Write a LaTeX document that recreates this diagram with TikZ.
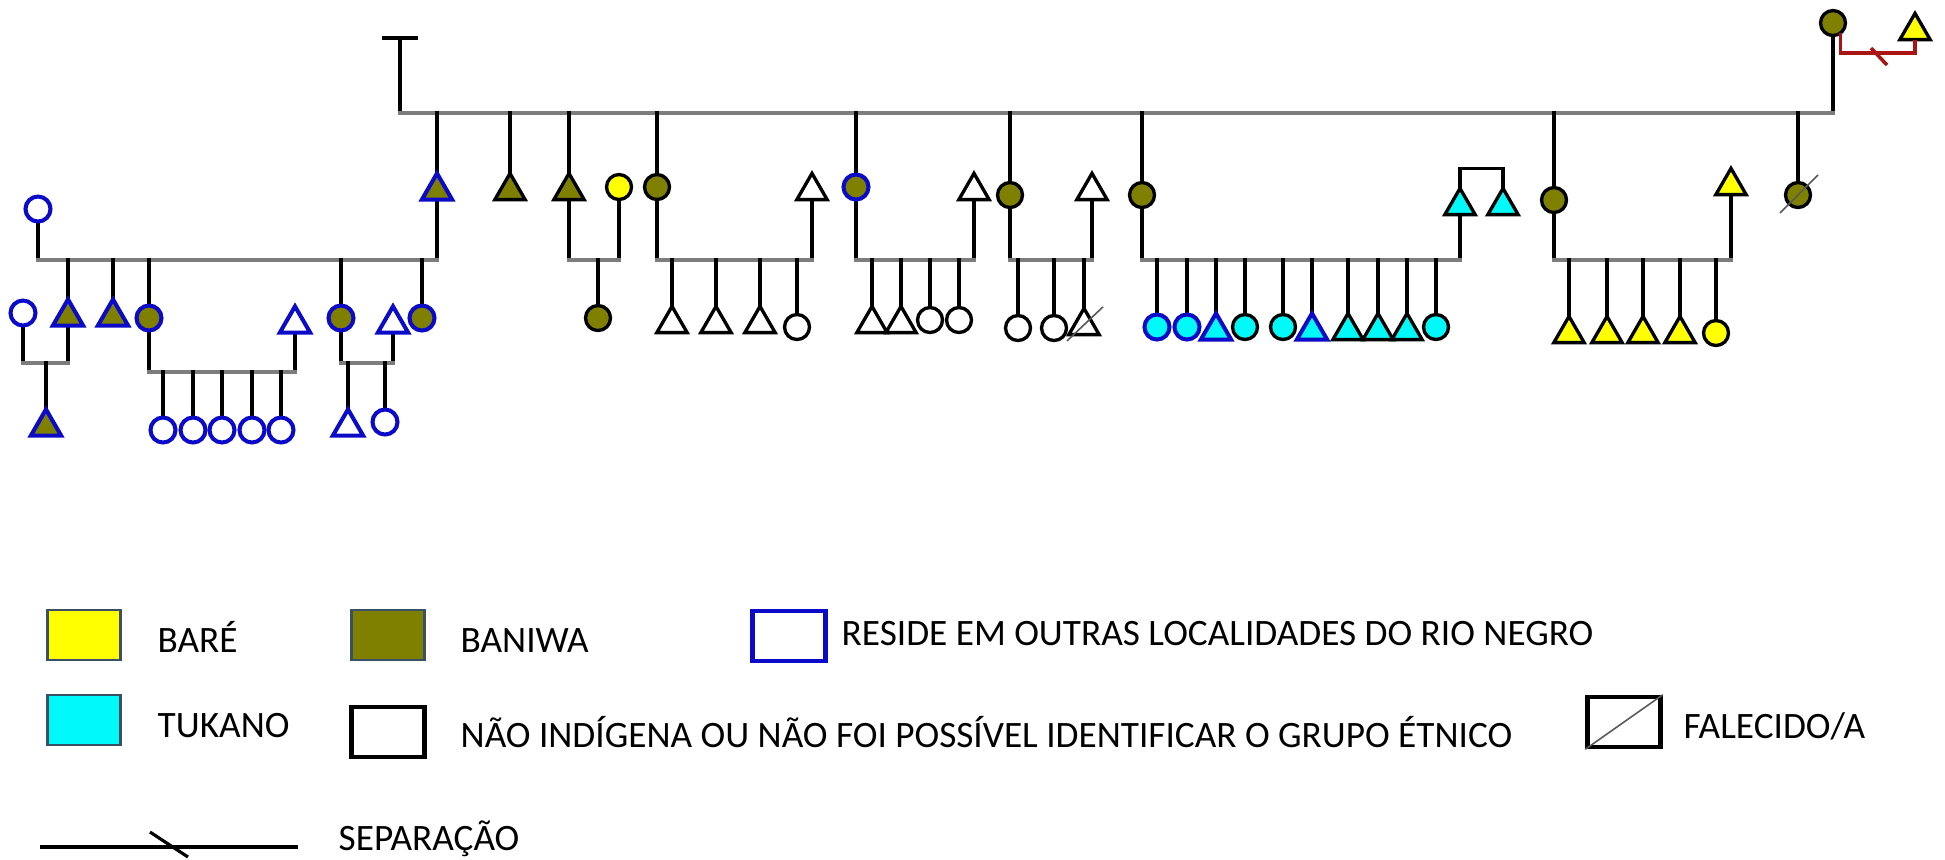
\documentclass[tikz,border=0pt]{standalone}
\usepackage{fontspec}
\setmainfont{Carlito}
\usetikzlibrary{shapes.geometric,backgrounds}
\definecolor{corBare}{RGB}{255,255,0}
\definecolor{corBaniwa}{RGB}{128,128,0}
\definecolor{corTukano}{RGB}{0,250,250}
\definecolor{azul}{RGB}{10,10,200}
\definecolor{linha}{RGB}{125,125,125}
\definecolor{vermelho}{RGB}{170,20,20}
\definecolor{contorno}{RGB}{60,80,100}
\tikzset{
  pessoa/.style={draw=black, line width=0.95pt, fill=white, inner sep=0pt, outer sep=0pt},
  mulher/.style={pessoa, circle, minimum size=0.25cm},
  homem/.style={pessoa, regular polygon, regular polygon sides=3, minimum size=0.35cm, yshift=-1.1pt},
  yel/.style={fill=corBare},
  oli/.style={fill=corBaniwa},
  cya/.style={fill=corTukano},
  blu/.style={draw=azul, line width=1.15pt},
  desc/.style={line width=1.05pt, black, line cap=rect},
  elo/.style={line width=1.2pt, linha, line cap=rect},
  obito/.style={line width=0.45pt, black!65},
  sep/.style={line width=1pt, vermelho},
  caixa/.style={draw=contorno, line width=0.6pt, minimum width=0.73cm, minimum height=0.5cm, inner sep=0pt},
  rotulo/.style={anchor=base west, inner sep=0pt, font=\fontsize{10.6}{12}\selectfont}
}
\begin{document}
\begin{tikzpicture}[x=0.01cm, y=-0.01cm]
\useasboundingbox (0,0) rectangle (1945,859);
\coordinate (l0) at (400,113);
\coordinate (tt) at (400,38);
\coordinate (nv2) at (0,260);
\coordinate (nv3a) at (0,363);
\coordinate (nv3b) at (0,372);

% casal do topo
\node[mulher, oli] (avo) at (1833,23) {};
\node[homem, yel] (avo2) at (1915,27) {};

% filhos
\node[homem, oli, blu] (g1) at (437,187) {};
\node[homem, oli] (g2) at (510,187) {};
\node[homem, oli] (g3) at (569,187) {};
\node[mulher, yel] (s3) at (619,187) {};
\node[mulher, oli] (g4) at (657,187) {};
\node[homem] (s4) at (812,187) {};
\node[mulher, oli, blu] (g5) at (856,187) {};
\node[homem] (s5) at (974,187) {};
\node[mulher, oli] (g6) at (1010,195) {};
\node[homem] (s6) at (1092,187) {};
\node[mulher, oli] (g7) at (1142,195) {};
\node[homem, cya] (s7) at (1460,202) {};
\node[homem, cya] (s7b) at (1503,202) {};
\node[mulher, oli] (g8) at (1554,200) {};
\node[homem, yel] (s8) at (1731,182) {};
\node[mulher, oli] (g9) at (1798,195) {};
\node[mulher, blu] (s1) at (38,209) {};

% netos de g1
\node[homem, oli, blu] (c11) at (68,313) {};
\node[mulher, blu] (e11) at (23,313) {};
\node[homem, oli, blu] (c12) at (113,313) {};
\node[mulher, oli, blu] (c13) at (149,318) {};
\node[homem, blu] (e13) at (295,320) {};
\node[mulher, oli, blu] (c14) at (341,318) {};
\node[homem, blu] (e14) at (393,320) {};
\node[mulher, oli, blu] (c15) at (422,318) {};
\node[homem, oli, blu] (n11) at (46,423) {};
\foreach \x [count=\i] in {163,193,222,252,281}
  \node[mulher, blu] (n13\i) at (\x,430) {};
\node[homem, blu] (n141) at (348,423) {};
\node[mulher, blu] (n142) at (385,422) {};

% netos dos outros
\node[mulher, oli] (c31) at (598,318) {};
\foreach \x [count=\i] in {672,716,760}
  \node[homem] (c4\i) at (\x,320) {};
\node[mulher] (c44) at (797,327) {};
\node[homem] (c51) at (872,320) {};
\node[homem] (c52) at (901,320) {};
\node[mulher] (c53) at (930,320) {};
\node[mulher] (c54) at (959,320) {};
\node[mulher] (c61) at (1018,328) {};
\node[mulher] (c62) at (1054,328) {};
\node[homem] (c63) at (1084,322) {};
\node[mulher, cya, blu] (c71) at (1157,327) {};
\node[mulher, cya, blu] (c72) at (1187,327) {};
\node[homem, cya, blu] (c73) at (1216,327) {};
\node[mulher, cya] (c74) at (1245,327) {};
\node[mulher, cya] (c75) at (1283,327) {};
\node[homem, cya, blu] (c76) at (1312,327) {};
\node[homem, cya] (c77) at (1348,327) {};
\node[homem, cya] (c78) at (1378,327) {};
\node[homem, cya] (c79) at (1407,327) {};
\node[mulher, cya] (c710) at (1436,327) {};
\foreach \x [count=\i] in {1569,1607,1643,1680}
  \node[homem, yel] (c8\i) at (\x,330) {};
\node[mulher, yel] (c85) at (1716,333) {};

\begin{pgfonlayer}{background}
\draw[desc] (l0) -- (tt) ++(-16,0) -- ++(32,0);
\draw[desc] (avo) -- (avo |- l0);
\draw[elo] (l0) -- (l0 -| avo);
\foreach \g in {g1,g2,g3,g4,g5,g6,g7,g8,g9}
  \draw[desc] (\g) -- (\g |- l0);
% casais
\foreach \a/\b in {s1/g1,g3/s3,g4/s4,g5/s5,g6/s6,g7/s7,g8/s8} {
  \draw[desc] (\a) -- (\a |- nv2);
  \draw[desc] (\b) -- (\b |- nv2);
  \draw[elo] (\a |- nv2) -- (\b |- nv2);
}
\foreach \a/\b/\n in {e11/c11/nv3a,c13/e13/nv3b,c14/e14/nv3a} {
  \draw[desc] (\a) -- (\a |- \n);
  \draw[desc] (\b) -- (\b |- \n);
  \draw[elo] (\a |- \n) -- (\b |- \n);
}
\foreach \k in {c11,c12,c13,c14,c15,c31,c41,c42,c43,c44,c51,c52,c53,c54,c61,c62,c63,
  c71,c72,c73,c74,c75,c76,c77,c78,c79,c710,c81,c82,c83,c84,c85}
  \draw[desc] (\k) -- (\k |- nv2);
\draw[desc] (n11) -- (n11 |- nv3a);
\foreach \k in {n131,n132,n133,n134,n135}
  \draw[desc] (\k) -- (\k |- nv3b);
\draw[desc] (n141) -- (n141 |- nv3a);
\draw[desc] (n142) -- (n142 |- nv3a);
\draw[desc] (s7.north) -- ++(0,-20) -| (s7b.north);
\end{pgfonlayer}

% separacao e falecidos
\draw[sep] (avo.-52) -- ++(0,20) -| (avo2.south);
\draw[sep] (1871,48) -- (1887,65);
\draw[obito] ([shift={(-18,18)}]g9.center) -- ([shift={(20,-20)}]g9.center);
\draw[obito] ([shift={(-17,15)}]c63.center) -- ([shift={(19,-19)}]c63.center);

% legenda
\node[caixa, fill=corBare] (kBare) at (84,635) {};
\node[rotulo] (tBare) at (157,652) {BARÉ};
\node[caixa, fill=corBaniwa] (kBaniwa) at (388,635) {};
\node[rotulo] (tBaniwa) at (460,652) {BANIWA};
\node[caixa, draw=azul, line width=1.3pt] (kFora) at (789,636) {};
\node[rotulo] (tFora) at (841,645) {RESIDE EM OUTRAS LOCALIDADES DO RIO NEGRO};
\node[caixa, fill=corTukano] (kTukano) at (84,720) {};
\node[rotulo] (tTukano) at (157,737) {TUKANO};
\node[caixa, draw=black, line width=1.3pt] (kNao) at (388,732) {};
\node[rotulo] (tNao) at (460,747) {NÃO INDÍGENA OU NÃO FOI POSSÍVEL IDENTIFICAR O GRUPO ÉTNICO};
\node[caixa, draw=black, line width=1.3pt] (kObito) at (1624,722) {};
\draw[obito] (kObito.south west) -- (kObito.north east);
\node[rotulo] (tObito) at (1683,738) {FALECIDO/A};
\coordinate (sepA) at (40,847);
\coordinate (sepB) at (298,847);
\draw[line width=0.9pt] (sepA) -- (sepB);
\draw[line width=0.9pt] (150,832) -- (188,857);
\node[rotulo] (tSep) at (338,850) {SEPARAÇÃO};
\end{tikzpicture}
\end{document}
